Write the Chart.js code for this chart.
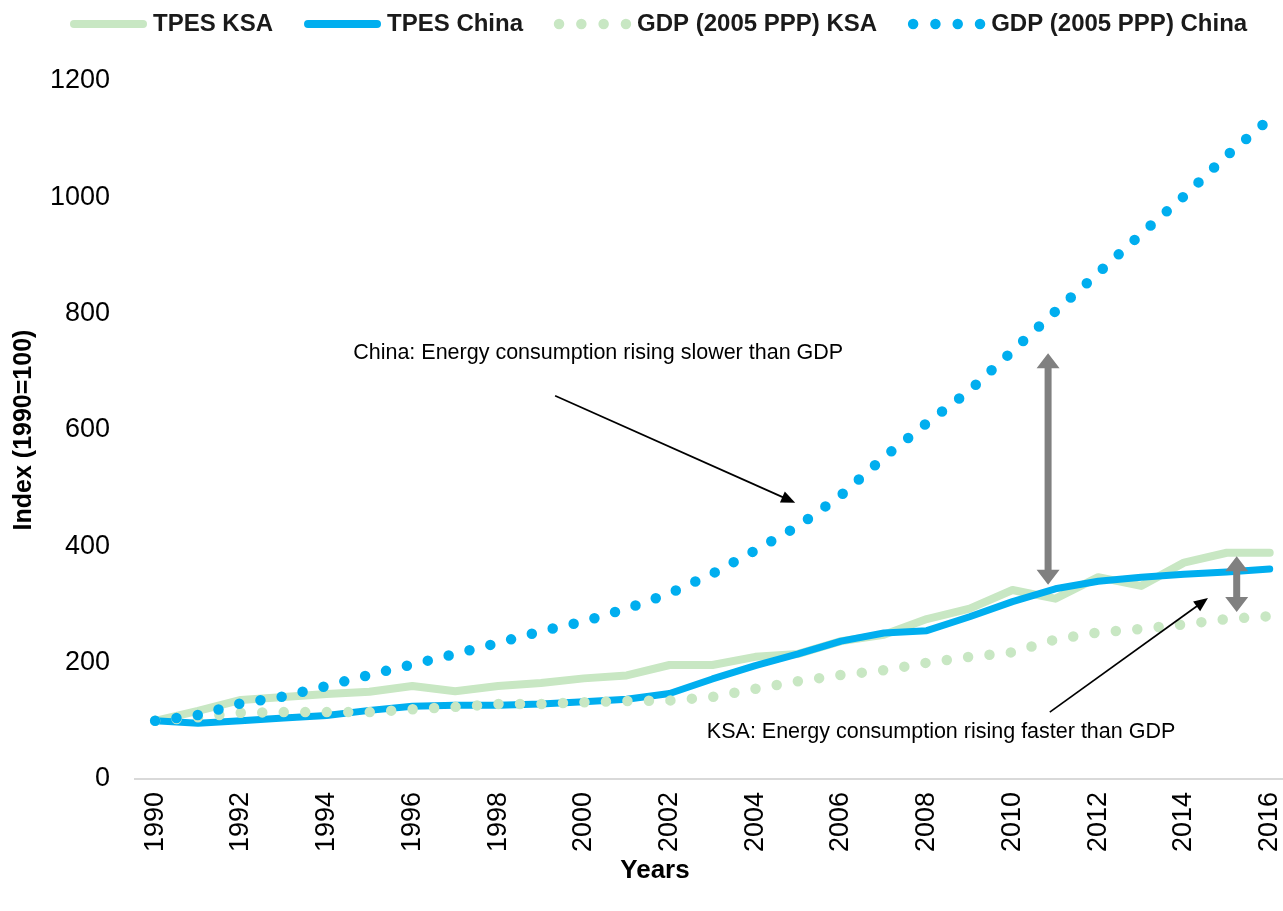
<!DOCTYPE html>
<html>
<head>
<meta charset="utf-8">
<title>TPES and GDP index, KSA and China</title>
<script src="https://cdn.jsdelivr.net/npm/chart.js@4.4.1/dist/chart.umd.min.js"></script>
<style>
  html, body { margin: 0; padding: 0; background: #fff; overflow: hidden; }
</style>
</head>
<body>
<canvas id="myChart" width="1283" height="911"></canvas>
<script>
var years = [1990, 1991, 1992, 1993, 1994, 1995, 1996, 1997, 1998, 1999, 2000, 2001, 2002, 2003,
  2004, 2005, 2006, 2007, 2008, 2009, 2010, 2011, 2012, 2013, 2014, 2015, 2016];
var tpesKsa = [100, 117, 136, 141, 146, 150, 160, 151, 160, 165, 173, 178, 196, 196,
  210, 215, 237, 248, 275, 293, 325, 310, 347, 332, 372, 389, 389];
var tpesChina = [100, 96, 100, 105, 109, 118, 125, 127, 127, 129, 133, 137, 147, 172,
  195, 215, 237, 251, 255, 279, 305, 327, 340, 347, 352, 356, 361];
var gdpKsa = [100, 106, 114, 115, 115, 115, 120, 124, 129, 129, 132, 134, 135, 141,
  155, 168, 179, 187, 200, 210, 218, 240, 252, 258, 266, 275, 280];
var gdpChina = [100, 110, 130, 142, 160, 179, 197, 215, 234, 254, 271, 293, 319, 353,
  393, 435, 488, 553, 612, 668, 736, 804, 870, 937, 1002, 1072, 1135];
var yearTicks = [1990, 1992, 1994, 1996, 1998, 2000, 2002, 2004, 2006, 2008, 2010, 2012, 2014, 2016];
var indexTicks = [0, 200, 400, 600, 800, 1000, 1200];
var seriesNames = ["TPES KSA", "TPES China", "GDP (2005 PPP) KSA", "GDP (2005 PPP) China"];

// grey gap markers (year, index from -> to) and the two callouts
var gapArrows = [
  { year: 2010.83, top: 732, bottom: 334 },
  { year: 2015.23, top: 383, bottom: 287 }
];
var callouts = [
  { text: "China: Energy consumption rising slower than GDP", at: [1994.62, 732], from: [1999.33, 659], to: [2004.93, 475] },
  { text: "KSA: Energy consumption rising faster than GDP", at: [2002.87, 81], from: [2010.87, 115], to: [2014.56, 311] }
];

var green = "#c8e7c3";
var blue = "#00aeef";
var FONT = "'Liberation Sans', Arial, Helvetica, sans-serif";

function points(values) {
  return values.map(function (v, i) { return { x: years[i], y: v }; });
}

function solid(label, values, color, width, order) {
  return { label: label, data: points(values), borderColor: color, backgroundColor: color,
    borderWidth: width, pointRadius: 0, tension: 0, borderJoinStyle: "round", borderCapStyle: "round", order: order };
}
function dotted(label, values, color, order) {
  return { label: label, data: points(values), borderColor: color, backgroundColor: color,
    borderWidth: 10.5, borderDash: [0, 21.5], borderCapStyle: "round", pointRadius: 0, tension: 0, order: order };
}

function filledArrowHead(ctx, x1, y1, x2, y2, len, half) {
  var a = Math.atan2(y2 - y1, x2 - x1);
  ctx.beginPath();
  ctx.moveTo(x2, y2);
  ctx.lineTo(x2 - len * Math.cos(a) + half * Math.sin(a), y2 - len * Math.sin(a) - half * Math.cos(a));
  ctx.lineTo(x2 - len * Math.cos(a) - half * Math.sin(a), y2 - len * Math.sin(a) + half * Math.cos(a));
  ctx.closePath();
  ctx.fill();
}

// thick grey arrow with a head at both ends
function gapArrow(ctx, x, yTop, yBottom) {
  var hw = 11.5, hl = 15, sw = 3.5;
  ctx.fillStyle = "#808080";
  ctx.beginPath();
  ctx.moveTo(x, yTop);
  ctx.lineTo(x + hw, yTop + hl);
  ctx.lineTo(x + sw, yTop + hl);
  ctx.lineTo(x + sw, yBottom - hl);
  ctx.lineTo(x + hw, yBottom - hl);
  ctx.lineTo(x, yBottom);
  ctx.lineTo(x - hw, yBottom - hl);
  ctx.lineTo(x - sw, yBottom - hl);
  ctx.lineTo(x - sw, yTop + hl);
  ctx.lineTo(x - hw, yTop + hl);
  ctx.closePath();
  ctx.fill();
}

var annotations = {
  id: "annotations",
  afterDatasetsDraw: function (chart) {
    var ctx = chart.ctx, x = chart.scales.x, y = chart.scales.y;
    ctx.save();
    gapArrows.forEach(function (g) {
      gapArrow(ctx, x.getPixelForValue(g.year), y.getPixelForValue(g.top), y.getPixelForValue(g.bottom));
    });
    ctx.font = "21.5px " + FONT;
    ctx.textBaseline = "middle";
    ctx.textAlign = "left";
    callouts.forEach(function (c) {
      ctx.fillStyle = "#000";
      ctx.fillText(c.text, x.getPixelForValue(c.at[0]), y.getPixelForValue(c.at[1]));
      var x1 = x.getPixelForValue(c.from[0]), y1 = y.getPixelForValue(c.from[1]);
      var x2 = x.getPixelForValue(c.to[0]), y2 = y.getPixelForValue(c.to[1]);
      var a = Math.atan2(y2 - y1, x2 - x1);
      ctx.strokeStyle = "#000";
      ctx.lineWidth = 1.7;
      ctx.beginPath();
      ctx.moveTo(x1, y1);
      ctx.lineTo(x2 - 10 * Math.cos(a), y2 - 10 * Math.sin(a));
      ctx.stroke();
      filledArrowHead(ctx, x1, y1, x2, y2, 14, 6);
    });
    ctx.restore();
  },
  afterDraw: function (chart) {
    var ctx = chart.ctx;
    ctx.save();
    // legend row
    var lx = 70, ly = 24;
    ctx.font = "bold 24px " + FONT;
    ctx.textBaseline = "middle";
    ctx.textAlign = "left";
    chart.data.datasets.forEach(function (ds) {
      ctx.strokeStyle = ds.borderColor;
      ctx.lineCap = "round";
      if (ds.borderDash) {
        ctx.lineWidth = 10.5;
        ctx.setLineDash([0, 22.3]);
        ctx.beginPath();
        ctx.moveTo(lx + 5, ly);
        ctx.lineTo(lx + 72, ly);
        ctx.stroke();
        ctx.setLineDash([]);
        lx += 83;
      } else {
        ctx.lineWidth = 8;
        ctx.beginPath();
        ctx.moveTo(lx + 4, ly);
        ctx.lineTo(lx + 73, ly);
        ctx.stroke();
        lx += 83;
      }
      ctx.fillStyle = "#1a1a1a";
      ctx.fillText(ds.label, lx, ly);
      lx += ctx.measureText(ds.label).width + 31;
    });
    // x axis title
    ctx.font = "bold 26px " + FONT;
    ctx.textAlign = "center";
    ctx.fillStyle = "#000";
    ctx.fillText("Years", 655, 871);
    ctx.restore();
  }
};

var ctx = document.getElementById("myChart").getContext("2d");
var myChart = new Chart(ctx, {
  type: "line",
  data: {
    datasets: [
      solid(seriesNames[0], tpesKsa, green, 8, 4),
      solid(seriesNames[1], tpesChina, blue, 7, 3),
      dotted(seriesNames[2], gdpKsa, green, 2),
      dotted(seriesNames[3], gdpChina, blue, 1)
    ]
  },
  options: {
    responsive: false,
    animation: false,
    layout: { padding: { top: 81, right: 0, bottom: 0, left: 0 } },
    plugins: { legend: { display: false }, tooltip: { enabled: false } },
    scales: {
      x: {
        type: "linear",
        min: 1989.53,
        max: 2016.31,
        grid: { display: false, drawTicks: false },
        border: { display: true, color: "#d9d9d9", width: 2 },
        afterBuildTicks: function (scale) {
          scale.ticks = yearTicks.map(function (v) { return { value: v }; });
        },
        afterFit: function (scale) {
          scale.height = 132;
          scale.paddingLeft = 0;
          scale.paddingRight = 0;
        },
        ticks: {
          autoSkip: false,
          minRotation: 90,
          maxRotation: 90,
          padding: 13,
          color: "#000",
          font: { family: FONT, size: 27 },
          callback: function (v) { return String(v); }
        }
      },
      y: {
        min: 0,
        max: 1200,
        grid: { display: false, drawTicks: false },
        border: { display: false },
        afterBuildTicks: function (scale) {
          scale.ticks = indexTicks.map(function (v) { return { value: v }; });
        },
        afterFit: function (scale) { scale.width = 135; },
        ticks: {
          padding: 25,
          color: "#000",
          font: { family: FONT, size: 27 },
          callback: function (v) { return String(v); }
        },
        title: {
          display: true,
          text: "Index (1990=100)",
          color: "#000",
          padding: { top: 9, bottom: 4 },
          font: { family: FONT, size: 25, weight: "bold" }
        }
      }
    }
  },
  plugins: [annotations]
});
</script>
</body>
</html>
